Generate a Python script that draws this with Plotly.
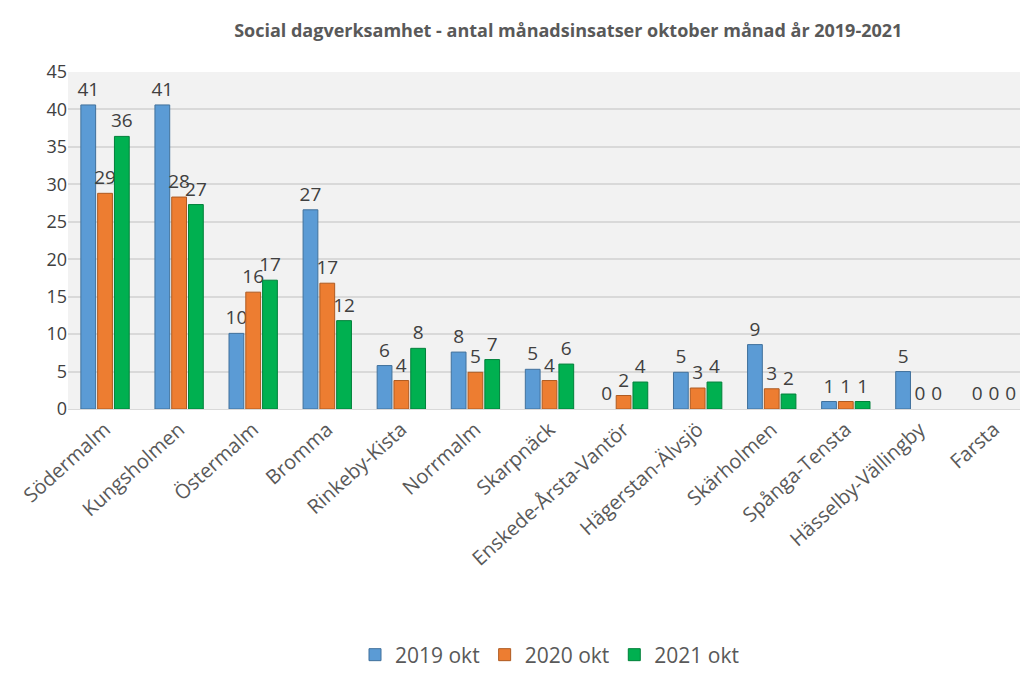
import plotly.graph_objects as go

categories = ["Södermalm", "Kungsholmen", "Östermalm", "Bromma", "Rinkeby-Kista",
              "Norrmalm", "Skarpnäck", "Enskede-Årsta-Vantör", "Hägerstan-Älvsjö",
              "Skärholmen", "Spånga-Tensta", "Hässelby-Vällingby", "Farsta"]
v2019 = [40.6, 40.6, 10.1, 26.6, 5.8, 7.6, 5.3, 0, 4.9, 8.6, 1, 5, 0]
v2020 = [28.8, 28.3, 15.6, 16.8, 3.8, 4.9, 3.8, 1.8, 2.8, 2.7, 1, 0, 0]
v2021 = [36.4, 27.3, 17.2, 11.8, 8.1, 6.6, 6.0, 3.6, 3.6, 2.0, 1, 0, 0]
series_names = ["2019 okt", "2020 okt", "2021 okt"]
colors = ["#5b9bd5", "#ed7d31", "#00b050"]
edge = ["#41719c", "#ae5a21", "#00803a"]

fig = go.Figure()
for name, vals, c, e in zip(series_names, [v2019, v2020, v2021], colors, edge):
    fig.add_trace(go.Bar(
        x=categories, y=vals, name=name,
        marker=dict(color=c, line=dict(color=e, width=[1 if v > 0 else 0 for v in vals])),
        texttemplate="%{y:.0f}", textposition="outside", constraintext="none",
        textfont=dict(size=19, color="#404040", family="Open Sans"),
        cliponaxis=False,
    ))

fig.update_layout(
    width=1028, height=673,
    paper_bgcolor="white", plot_bgcolor="#f2f2f2",
    title=dict(text="<b>Social dagverksamhet - antal månadsinsatser oktober månad år 2019-2021</b>",
               x=0.545, xanchor="center", y=0.967, yanchor="middle",
               font=dict(size=18, color="#595959", family="Open Sans")),
    margin=dict(l=60, r=5, t=64, b=258),
    barmode="group", bargap=0.32, bargroupgap=0.12,
    font=dict(family="Open Sans", color="#404040"),
    legend=dict(orientation="h", x=0.5, xanchor="center", y=-0.73, yanchor="middle",
                font=dict(size=21, color="#595959"), itemwidth=30, traceorder="normal"),
    xaxis=dict(tickangle=-42, tickfont=dict(size=20, color="#595959"), automargin=False,
               showline=True, linecolor="#d9d9d9", linewidth=1),
    yaxis=dict(range=[0, 45], dtick=5, tickfont=dict(size=18, color="#404040"), automargin=False,
               gridcolor="#d9d9d9", gridwidth=2, zeroline=False, ticks="", ticklen=0),
)

fig.write_html("out.html")
